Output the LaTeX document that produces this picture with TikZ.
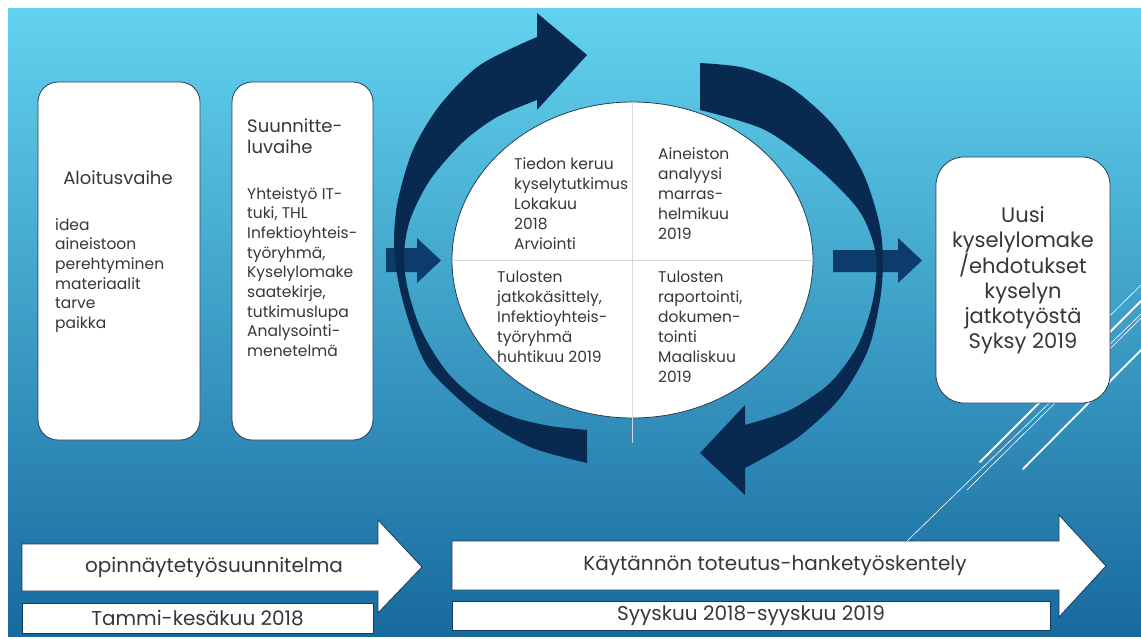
\documentclass[tikz,border=0pt]{standalone}
\usepackage{fontspec}
\setmainfont{Poppins}
\usetikzlibrary{shapes.geometric,positioning}
\definecolor{bgtop}{RGB}{98,210,238}
\definecolor{bgbottom}{RGB}{24,106,158}
\definecolor{navy}{RGB}{8,42,80}
\definecolor{navylight}{RGB}{12,60,108}
\definecolor{boxline}{RGB}{40,62,80}
\definecolor{arrowline}{RGB}{22,58,92}
\definecolor{ink}{RGB}{55,55,55}
\definecolor{divider}{RGB}{212,216,224}
\begin{document}
\begin{tikzpicture}[x=1pt,y=-1pt]
% Tyylien määrittely
\tikzset{
  phase/.style={rectangle, rounded corners=20pt, draw=boxline, line width=0.8pt, fill=white},
  phasetitle/.style={inner sep=0pt, text=ink, font=\fontsize{18}{21}\selectfont, align=left, anchor=north west},
  phasetext/.style={inner sep=0pt, text=ink, font=\fontsize{15.5}{19.7}\selectfont, align=left, anchor=north west},
  quarter/.style={inner sep=0pt, text=ink, font=\fontsize{15.5}{20}\selectfont, align=left, anchor=north west},
  result/.style={phase, rounded corners=28pt, align=center, text=ink, font=\fontsize{21}{25}\selectfont},
  timeline/.style={draw=arrowline, line width=0.8pt, fill=white},
  datebox/.style={rectangle, draw=arrowline, line width=0.8pt, fill=white, inner sep=0pt, text=ink, font=\fontsize{20}{22}\selectfont},
  bartext/.style={inner sep=0pt, text=ink, font=\fontsize{20}{22}\selectfont},
  cyclearc/.style={fill=navy},
  pointer/.style={fill=navylight},
  deco/.style={draw=white, line width=0.6pt},
  decothick/.style={draw=white, line width=1.8pt, line cap=round}
}

% Tausta
\fill[white] (0,0) rectangle (1141,638);
\shade[top color=bgtop, bottom color=bgbottom] (8,8) rectangle (1141,636);
\useasboundingbox (0,0) rectangle (1141,638);

% Koristeviivat
\draw[deco] (1060,365) -- (1141,285);
\draw[decothick] (980,462) -- (1141,301);
\draw[deco] (905,543) -- (1141,314);
\draw[deco] (967,490) -- (1141,318);
\draw[decothick] (1023,469) -- (1141,350);

% Aloitusvaihe
\node[phase, minimum width=162, minimum height=358] (aloitus) at (119,261) {};
\node[phasetitle, anchor=center] (aloitus_title) at (118,178) {Aloitusvaihe};
\node[phasetext] (aloitus_text) at (55,218) {idea\\aineistoon\\perehtyminen\\materiaalit\\tarve\\paikka};

% Suunnitteluvaihe
\node[phase, minimum width=141, minimum height=358] (suunnittelu) at (302.5,261) {};
\node[phasetitle] (suunnittelu_title) at (247,119) {Suunnitte-\\luvaihe};
\node[phasetext] (suunnittelu_text) at (247,187) {Yhteistyö IT-\\tuki, THL\\Infektioyhteis-\\työryhmä,\\Kyselylomake\\saatekirje,\\tutkimuslupa\\Analysointi-\\menetelmä};

% Pienet nuolet
\fill[pointer] (386,248) -- (417,248) -- (417,238) -- (441,260.5) -- (417,283) -- (417,272) -- (386,272) -- cycle;
\fill[pointer] (833,250) -- (898,250) -- (898,238) -- (922,260.5) -- (898,283) -- (898,272) -- (833,272) -- cycle;

% Kiertonuolet
\fill[cyclearc] (587,430) -- plot[smooth] coordinates {(587,463) (530,447) (480,417) (430,370) (410,325) (398,280) (394,240) (398,200) (413,150) (440,105) (480,65) (537,37)}
  -- (537,13) -- (587,55) -- (537,110) -- (537,100)
  -- plot[smooth] coordinates {(537,100) (497,117) (463,142) (430,180) (410,220) (404,255) (408,290) (422,332) (447,372) (478,400) (513,417) (550,426) (587,430)} -- cycle;
\fill[cyclearc] (700,110) -- plot[smooth] coordinates {(700,63) (745,68) (790,87) (833,125) (863,173) (879,222) (883,260) (880,300) (868,350) (840,398) (797,438) (745,468)}
  -- (745,495) -- (700,453) -- (745,405) -- (745,425)
  -- plot[smooth] coordinates {(745,425) (790,410) (830,383) (858,345) (873,300) (876,255) (860,212) (820,170) (765,130) (700,110)} -- cycle;

% Ellipsi ja neljännekset
\node[ellipse, draw=boxline, line width=0.8pt, fill=white, minimum width=361, minimum height=316, inner sep=0pt] (kierto) at (632.5,260) {};
\draw[divider, line width=0.8pt] (kierto.west) -- (kierto.east);
\draw[divider, line width=0.8pt] (kierto.north) -- (632.5,443);
\node[quarter] (keruu) at (514,157) {Tiedon keruu\\kyselytutkimus\\Lokakuu\\2018\\Arviointi};
\node[quarter] (analyysi) at (658,147) {Aineiston\\analyysi\\marras-\\helmikuu\\2019};
\node[quarter] (jatko) at (497,271) {Tulosten\\jatkokäsittely,\\Infektioyhteis-\\työryhmä\\huhtikuu 2019};
\node[quarter] (raportointi) at (658,271) {Tulosten\\raportointi,\\dokumen-\\tointi\\Maaliskuu\\2019};

% Tulos
\node[result, minimum width=174, minimum height=246] (uusi) at (1023,280) {Uusi\\kyselylomake\\/ehdotukset\\kyselyn\\jatkotyöstä\\Syksy 2019};

% Aikajana
\filldraw[timeline] (22,544) -- (378,544) -- (378,520) -- (422,567) -- (378,613) -- (378,591) -- (22,591) -- cycle;
\node[bartext] (suunnitelma) at (214,567) {opinnäytetyösuunnitelma};
\node[datebox, minimum width=351, minimum height=30] (kevat) at (197.5,618) {Tammi-kesäkuu 2018};
\filldraw[timeline] (452,541) -- (1059,541) -- (1059,515) -- (1106,566) -- (1059,617) -- (1059,590) -- (452,590) -- cycle;
\node[bartext] (toteutus) at (775,566) {Käytännön toteutus-hanketyöskentely};
\node[datebox, minimum width=598, minimum height=29] (syksy) at (751,615.5) {Syyskuu 2018-syyskuu 2019};
\end{tikzpicture}
\end{document}
